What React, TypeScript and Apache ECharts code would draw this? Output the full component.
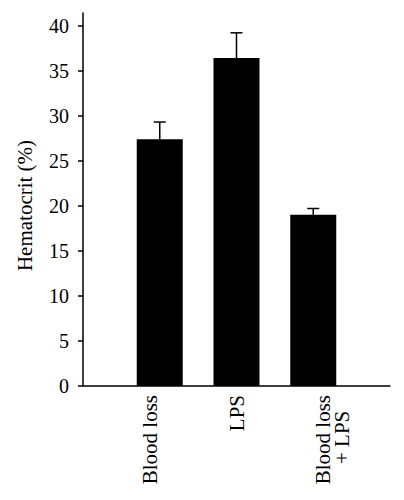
import React, { useEffect, useRef } from 'react';
import * as echarts from 'echarts';

// hematocrit per group
const categories = ['Blood loss', 'LPS', 'Blood loss\n+ LPS'];
const positions = [1, 2, 3];
const hematocrit = [27.4, 36.4, 19.0];
const errorUp = [1.9, 2.8, 0.7];
const yTicks = [0, 5, 10, 15, 20, 25, 30, 35, 40];

const FONT = '"Liberation Serif", "DejaVu Serif", serif';
const NBSP = '\u00a0';

// the labels in the figure are not centred on the bars; nudge them with blank lines
const labelText = (i: number) => {
  if (i === 0) return categories[0] + '\n' + NBSP;
  if (i === 2) {
    const [a, b] = categories[2].split('\n');
    return NBSP + '\n' + NBSP + '\n' + a + '\n' + b + NBSP.repeat(3);
  }
  return categories[i];
};

const App: React.FC = () => {
  const chartRef = useRef<HTMLDivElement>(null);

  useEffect(() => {
    if (!chartRef.current) return;
    const chart = echarts.init(chartRef.current, null, { renderer: 'svg' });

    const barData = positions.map((x, i) => [x, hematocrit[i]]);
    const errData = positions.map((x, i) => [x, hematocrit[i], errorUp[i]]);

    const option: any = {
      animation: false,
      backgroundColor: '#fff',
      grid: { left: 83, right: 14, top: 13, bottom: 114 },
      xAxis: {
        type: 'value',
        min: 0,
        max: 4,
        interval: 1,
        splitLine: { show: false },
        axisTick: { show: false },
        axisLine: { show: true, lineStyle: { color: '#000', width: 1.5 } },
        axisLabel: {
          customValues: positions,
          formatter: (v: number) => (v >= 1 && v <= 3 ? labelText(v - 1) : ''),
          rotate: 90,
          margin: 9,
          color: '#000',
          fontFamily: FONT,
          fontSize: 21,
          lineHeight: 19,
        },
      },
      yAxis: {
        type: 'value',
        min: 0,
        max: 41.4,
        splitLine: { show: false },
        axisLine: { show: true, lineStyle: { color: '#000', width: 1.5 } },
        axisTick: { show: true, customValues: yTicks, length: 5, lineStyle: { color: '#000', width: 1.5 } },
        axisLabel: {
          customValues: yTicks,
          margin: 14,
          color: '#000',
          fontFamily: FONT,
          fontSize: 20,
        },
        name: 'Hematocrit (%)',
        nameLocation: 'middle',
        nameGap: 48,
        nameTextStyle: { color: '#000', fontFamily: FONT, fontSize: 21, padding: [0, 12, 0, 0] },
      },
      series: [
        {
          type: 'bar',
          data: barData,
          barWidth: 46,
          itemStyle: { color: '#000' },
        },
        {
          type: 'custom',
          data: errData,
          z: 3,
          clip: false,
          renderItem: (params: any, api: any) => {
            const x = api.value(0);
            const y = api.value(1);
            const e = api.value(2);
            const base = api.coord([x, y]);
            const top = api.coord([x, y + e]);
            const style = { stroke: '#000', lineWidth: 1.5 };
            return {
              type: 'group',
              children: [
                { type: 'line', shape: { x1: base[0], y1: base[1], x2: top[0], y2: top[1] }, style },
                { type: 'line', shape: { x1: top[0] - 6, y1: top[1], x2: top[0] + 6, y2: top[1] }, style },
              ],
            };
          },
        },
      ],
    };

    chart.setOption(option);

    return () => {
      chart.dispose();
    };
  }, []);

  return (
    <div
      ref={chartRef}
      style={{ position: 'fixed', left: 0, top: 0, width: 404, height: 500 }}
    />
  );
};

export default App;
